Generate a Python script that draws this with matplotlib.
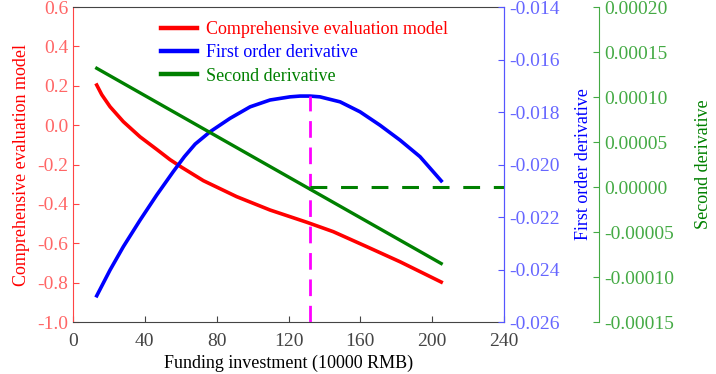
import numpy as np
import matplotlib.pyplot as plt

# values
model_x = [13.2, 16, 20.6, 28.0, 37.3, 46.6, 54.0, 60.5, 72.6, 91.1, 109.7, 130.1, 144.9, 163.5, 182.1, 205.0]
model = [0.204, 0.155, 0.094, 0.018, -0.059, -0.123, -0.175, -0.214, -0.282, -0.363, -0.431,
         -0.493, -0.541, -0.617, -0.694, -0.797]
deriv1_x = [13.2, 20.6, 28.0, 37.3, 46.6, 55.8, 62, 68, 76.3, 87.4, 98.6, 109.7, 120.8, 126.4, 132.0,
            137.5, 148.7, 159.8, 170.9, 182.1, 193.2, 205.0]
deriv1 = [-0.02500, -0.02402, -0.02313, -0.02212, -0.02116, -0.02027, -0.01970, -0.01922, -0.01875,
          -0.01824, -0.01780, -0.01754, -0.01742, -0.01739, -0.01739, -0.01742, -0.01761, -0.01799,
          -0.01850, -0.01907, -0.01970, -0.02062]
deriv2_x = [13.2, 205.0]
deriv2 = [0.000132, -0.000085]
x_opt = 132
peak = -0.01739

plt.rcParams['font.family'] = ['Liberation Serif', 'DejaVu Serif']


def fmt(nd):
    def f(v, p):
        v = round(v, nd + 2)
        if abs(v) < 1e-12:
            v = 0.0
        return ('%.' + str(nd) + 'f') % v
    return plt.FuncFormatter(f)


fig = plt.figure(figsize=(7.16, 3.74), dpi=100)
ax = fig.add_axes([0.102, 0.139, 0.602, 0.842])
ax2 = ax.twinx()
ax3 = ax.twinx()
ax3.spines['right'].set_position(('axes', 1.22))

l1, = ax.plot(model_x, model, color='#ff0000', lw=2.6, label='Comprehensive evaluation model')
l2, = ax2.plot(deriv1_x, deriv1, color='#0000ff', lw=2.6, label='First order derivative')
l3, = ax3.plot(deriv2_x, deriv2, color='#008000', lw=2.4, label='Second derivative')

ax2.plot([x_opt, x_opt], [-0.026, peak], color='#ff00ff', lw=2, dashes=(6, 3.5))
ax3.plot([x_opt, 240], [0, 0], color='#008000', lw=2.2, dashes=(5.5, 4.5))

ax.set_xlim(0, 240)
ax.set_ylim(-1.0, 0.6)
ax2.set_ylim(-0.026, -0.014)
ax3.set_ylim(-0.00015, 0.0002)
ax.set_xticks(np.arange(0, 241, 40))
ax.set_yticks(np.linspace(-1.0, 0.6, 9))
ax2.set_yticks(np.linspace(-0.026, -0.014, 7))
ax3.set_yticks(np.linspace(-0.00015, 0.0002, 8))
ax.yaxis.set_major_formatter(fmt(1))
ax2.yaxis.set_major_formatter(fmt(3))
ax3.yaxis.set_major_formatter(fmt(5))

ax.tick_params(axis='x', direction='in', labelsize=14, colors='#444444', length=4, pad=8)
ax.tick_params(axis='y', direction='in', labelsize=14, colors='#ff4444', labelcolor='#ff6666', length=4)
ax2.tick_params(axis='y', direction='in', labelsize=14, colors='#5555ff', labelcolor='#6666ff', length=4)
ax3.tick_params(axis='y', direction='in', labelsize=14, colors='#44aa44', labelcolor='#44aa44', length=4)

ax.spines['left'].set_color('#ff4444')
ax.spines['bottom'].set_color('#444444')
ax.spines['top'].set_color('#444444')
ax.spines['right'].set_color('#5555ff')
ax2.spines['right'].set_color('#5555ff')
ax3.spines['right'].set_color('#44aa44')
for a in (ax2, ax3):
    a.spines['left'].set_visible(False)
    a.spines['top'].set_visible(False)
    a.spines['bottom'].set_visible(False)

ax.set_xlabel('Funding investment (10000 RMB)', fontsize=13, labelpad=3)
ax.set_ylabel('Comprehensive evaluation model', fontsize=13, color='#ff0000', labelpad=5)
ax2.set_ylabel('First order derivative', fontsize=13, color='#0000ff', labelpad=11)
ax3.set_ylabel('Second derivative', fontsize=13, color='#008000', labelpad=15)

leg = ax.legend(handles=[l1, l2, l3], loc='upper left', bbox_to_anchor=(0.18, 0.99), frameon=False,
                fontsize=13, handlelength=1.95, labelspacing=0.35, handletextpad=0.5,
                borderaxespad=0.2)
for t, c in zip(leg.get_texts(), ['#ff0000', '#0000ff', '#008000']):
    t.set_color(c)
for h in leg.get_lines():
    h.set_linewidth(3.2)

fig.savefig('out.png', dpi=100)
